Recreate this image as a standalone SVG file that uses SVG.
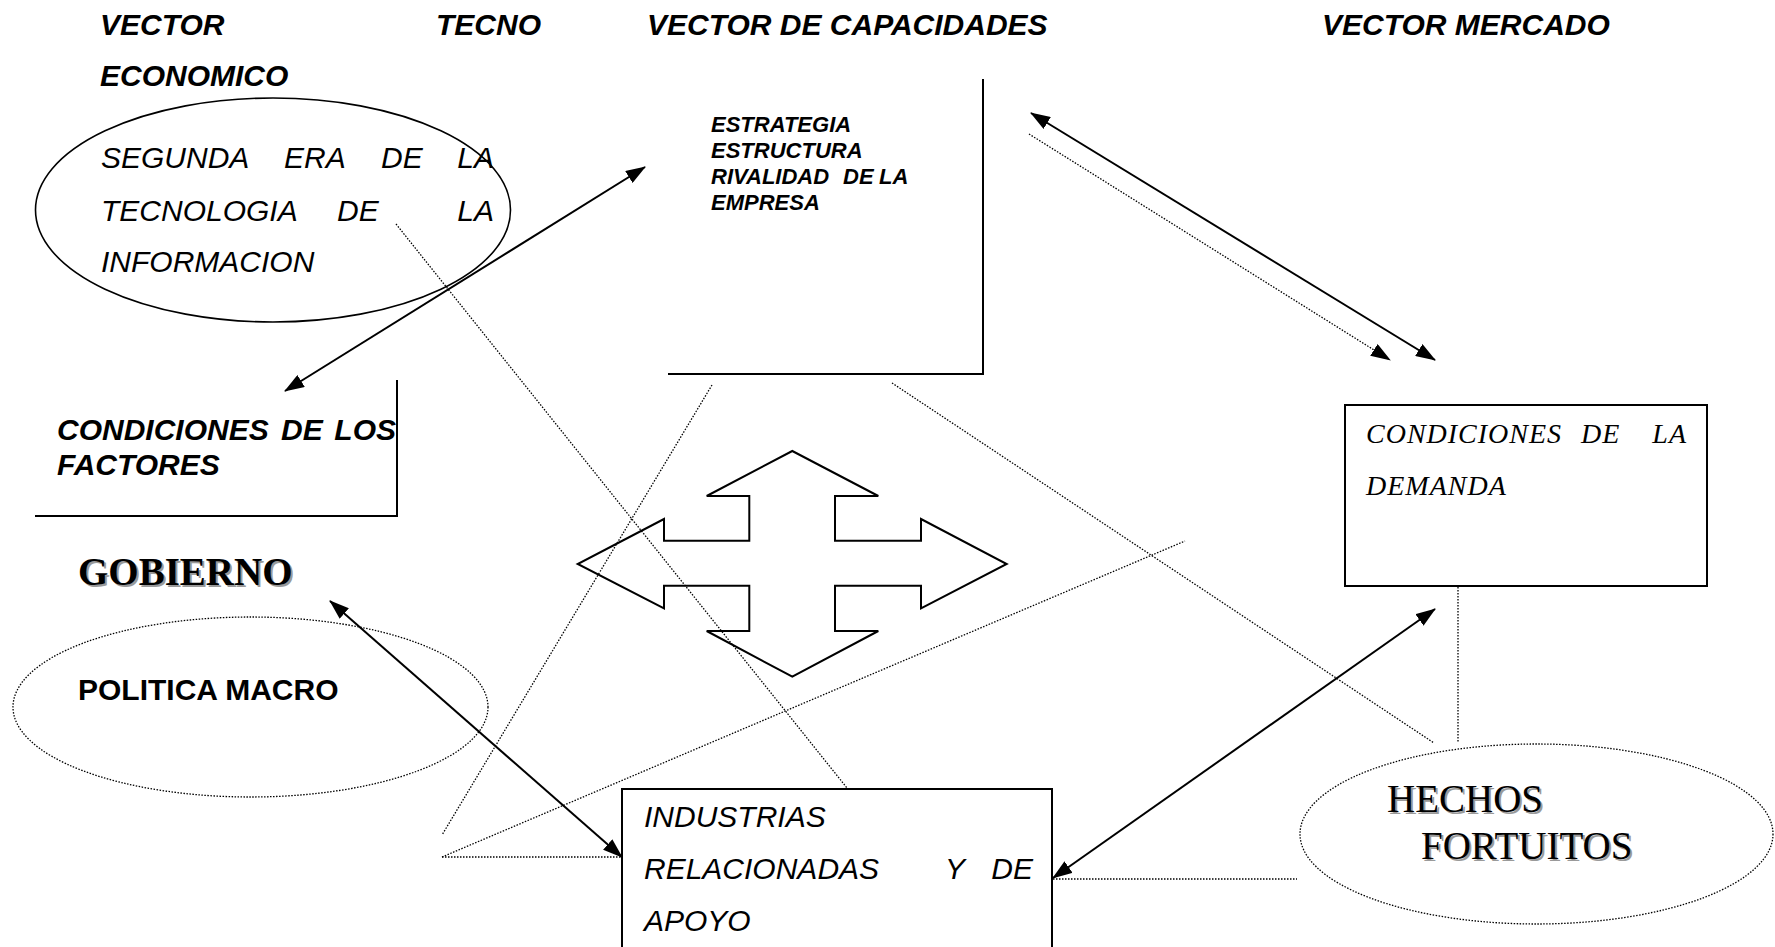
<svg xmlns="http://www.w3.org/2000/svg" width="1775" height="947" viewBox="0 0 1775 947">
<style>
.t{font-family:"Liberation Sans",Arial,sans-serif;font-size:30px;fill:#000}
.bi{font-weight:bold;font-style:italic}
.it{font-style:italic}
.b{font-weight:bold}
.sm{font-size:22px}
.tm{font-family:"Liberation Serif","Times New Roman",serif;fill:#000}
.sh{fill:#9a9a9a}
.ln{stroke:#000;stroke-width:2;fill:none}
.dot{stroke:#000;stroke-width:1.3;stroke-dasharray:1.5 1.5;fill:none}
.arr{stroke:#000;stroke-width:2;fill:none;marker-end:url(#ah);marker-start:url(#ah)}
</style>
<defs>
<marker id="ah" viewBox="0 0 20 14" refX="19" refY="7" markerWidth="20" markerHeight="14" markerUnits="userSpaceOnUse" orient="auto-start-reverse">
<path d="M0,0 L20,7 L0,14 z" fill="#000"/>
</marker>
</defs>
<rect width="1775" height="947" fill="#fff"/>

<g id="titles">
<text class="t bi" x="100" y="35">VECTOR</text>
<text class="t bi" x="436" y="35">TECNO</text>
<text class="t bi" x="100" y="86">ECONOMICO</text>
<text class="t bi" x="647" y="35">VECTOR DE CAPACIDADES</text>
<text class="t bi" x="1322" y="35">VECTOR MERCADO</text>
</g>

<g id="connectors">
<line class="dot" x1="396" y1="224" x2="847" y2="788"/>
<line class="dot" x1="712" y1="385" x2="442" y2="835"/>
<line class="dot" x1="892" y1="383" x2="1434" y2="743"/>
<line class="dot" x1="442" y1="857" x2="1185" y2="541"/>
<line class="dot" x1="442" y1="857" x2="622" y2="857"/>
<line class="dot" x1="1053" y1="879" x2="1297" y2="879"/>
<line class="dot" x1="1458" y1="587" x2="1458" y2="742"/>
<line class="dot" x1="1029" y1="134" x2="1390" y2="360" style="marker-end:url(#ah)"/>
<line class="arr" x1="285" y1="391" x2="645" y2="167"/>
<line class="arr" x1="1031" y1="113" x2="1435" y2="360"/>
<line class="arr" x1="330" y1="601" x2="622" y2="857"/>
<line class="arr" x1="1053" y1="878" x2="1435" y2="609"/>
</g>

<g id="segunda-era">
<ellipse cx="273" cy="210" rx="237.5" ry="112" fill="none" stroke="#000" stroke-width="1.6"/>
<text class="t it" x="101" y="168">SEGUNDA</text>
<text class="t it" x="284" y="168">ERA</text>
<text class="t it" x="381" y="168">DE</text>
<text class="t it" x="494" y="168" text-anchor="end">LA</text>
<text class="t it" x="101" y="221">TECNOLOGIA</text>
<text class="t it" x="337" y="221">DE</text>
<text class="t it" x="494" y="221" text-anchor="end">LA</text>
<text class="t it" x="101" y="272">INFORMACION</text>
</g>

<g id="estrategia">
<polyline class="ln" points="983,79 983,374 668,374"/>
<text class="t bi sm" x="711" y="132">ESTRATEGIA</text>
<text class="t bi sm" x="711" y="158">ESTRUCTURA</text>
<text class="t bi sm" x="711" y="184">RIVALIDAD<tspan x="843">DE</tspan><tspan x="879">LA</tspan></text>
<text class="t bi sm" x="711" y="210">EMPRESA</text>
</g>

<g id="factores">
<polyline class="ln" points="397,380 397,516 35,516"/>
<text class="t bi" x="57" y="440">CONDICIONES</text>
<text class="t bi" x="281" y="440">DE</text>
<text class="t bi" x="396" y="440" text-anchor="end">LOS</text>
<text class="t bi" x="57" y="475">FACTORES</text>
</g>

<g id="gobierno">
<text class="tm b sh" x="80" y="587" font-size="39">GOBIERNO</text>
<text class="tm b" x="78" y="585" font-size="39">GOBIERNO</text>
</g>

<g id="politica-macro">
<ellipse cx="250.5" cy="707" rx="237.5" ry="90" class="dot"/>
<text class="t b" x="78" y="700" font-size="29">POLITICA MACRO</text>
</g>

<g id="cross-arrow">
<polygon class="ln" points="792.3,451 878.3,496 835,496 835,540.7 921,540.7 921,519 1006.7,564 921,608.3 921,585.7 835,585.7 835,631 878.3,631 792.3,676.7 706.7,631 749.3,631 749.3,585.7 664,585.7 664,608.3 577.7,564 664,519 664,540.7 749.3,540.7 749.3,496 706.7,496"/>
</g>

<g id="industrias">
<rect x="622" y="789" width="430" height="170" fill="none" stroke="#000" stroke-width="2"/>
<text class="t it" x="644" y="827">INDUSTRIAS</text>
<text class="t it" x="644" y="879">RELACIONADAS</text>
<text class="t it" x="945" y="879">Y</text>
<text class="t it" x="1033" y="879" text-anchor="end">DE</text>
<text class="t it" x="644" y="931">APOYO</text>
</g>

<g id="demanda">
<rect x="1345" y="405" width="362" height="181" fill="none" stroke="#000" stroke-width="2"/>
<text class="tm it" x="1366" y="443" font-size="28" letter-spacing="1">CONDICIONES</text>
<text class="tm it" x="1581" y="443" font-size="28" letter-spacing="1">DE</text>
<text class="tm it" x="1687" y="443" font-size="28" letter-spacing="1" text-anchor="end">LA</text>
<text class="tm it" x="1366" y="495" font-size="28" letter-spacing="1">DEMANDA</text>
</g>

<g id="hechos">
<ellipse cx="1536.5" cy="834" rx="236.5" ry="90" class="dot"/>
<text class="tm sh" x="1389" y="814" font-size="39">HECHOS</text>
<text class="tm" x="1387" y="812" font-size="39">HECHOS</text>
<text class="tm sh" x="1423" y="861" font-size="39">FORTUITOS</text>
<text class="tm" x="1421" y="859" font-size="39">FORTUITOS</text>
</g>
</svg>
